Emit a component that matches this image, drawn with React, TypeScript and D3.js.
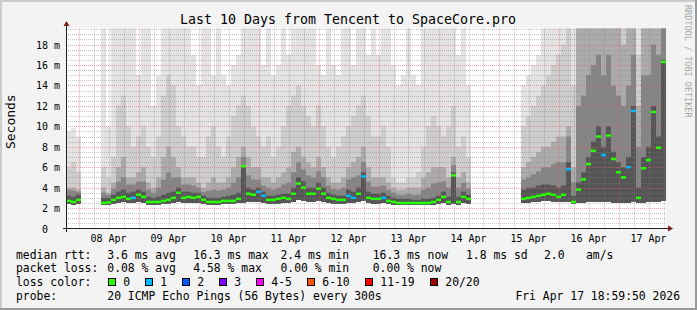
import React from "react";
import * as d3 from "d3";

// ---------------- data ----------------
const TITLE = "Last 10 Days from Tencent to SpaceCore.pro";
const startTime = new Date(2026, 3, 7, 19, 0, 0);
const endTime = new Date(2026, 3, 17, 19, 0, 0);
const STEP_HOURS = 2;
const Y_MAX = 19.57;

const dayLabels = ["08 Apr", "09 Apr", "10 Apr", "11 Apr", "12 Apr", "13 Apr", "14 Apr", "15 Apr", "16 Apr", "17 Apr"];
const yTickValues = [0, 2, 4, 6, 8, 10, 12, 14, 16, 18];
const yTickLabels = ["0", "2 m", "4 m", "6 m", "8 m", "10 m", "12 m", "14 m", "16 m", "18 m"];

const N = null;
// median rtt per 2-hour column (ms)
const median = [
  2.7, 2.6, 2.8, N, N, N, N,
  2.5, 2.55, 2.8, 3.0, 3.1, 2.9, 3.0, 3.3, 3.1, 2.6, 2.6, 2.6, 2.7,
  2.8, 3.0, 3.5, 3.0, 3.1, 3.0, 3.1, 2.8, 2.6, 2.6,
  2.6, 2.7, 2.7, 2.7, 2.9, 6.1, 3.4, 3.3, 3.6, 3.2,
  2.8, 2.8, 2.9, 3.0, 2.9, 3.4, 4.4, 4.0, 3.4, 3.4,
  3.9, 3.4, 3.0, 2.9, 2.8, 2.8, 3.2, 3.0, 3.4, 5.1,
  3.0, 2.9, 2.9, 3.0, 2.7, 2.6, 2.5, 2.5, 2.5, 2.5,
  2.5, 2.5, 2.5, 2.6, 2.8, 3.1, 2.6, 5.2, 2.6, 3.1,
  2.9, N, N, N, N, N, N, N, N, N, N,
  2.9, 3.0, 3.1, 3.2, 3.3, 3.4, 3.3, 3.1, 3.3,
  5.8, 2.6, 3.8, 4.8, 6.3, 7.6, 9.0, 7.2, 9.1, 6.8,
  5.5, 5.0, 6.0, 11.5, 3.0, 5.9, 6.7, 11.4, 7.9, 16.3,
];
// lost pings per column
const lossPings = [
  0, 0, 0, 0, 0, 0, 0,
  0, 0, 0, 0, 0, 0, 1, 0, 0, 0, 0, 0, 0,
  0, 0, 0, 0, 0, 0, 0, 0, 0, 0,
  0, 0, 0, 0, 0, 0, 0, 0, 1, 1,
  0, 0, 0, 0, 0, 0, 0, 0, 0, 0,
  0, 0, 0, 0, 0, 0, 1, 1, 0, 1,
  0, 0, 0, 1, 0, 0, 0, 0, 0, 0,
  0, 0, 0, 0, 0, 0, 0, 0, 0, 0,
  0, 0, 0, 0, 0, 0, 0, 0, 0, 0, 0,
  0, 0, 0, 0, 0, 0, 0, 0, 0,
  1, 0, 0, 0, 0, 0, 0, 1, 0, 0,
  0, 0, 1, 1, 0, 0, 0, 0, 0, 0,
];
// smoke bands (ms), from outer (lightest) to inner (darkest)
const smokeTop = [
  9.5, 9.8, 9.0, N, N, N, N,
  19.6, 10, 19.6, 19.6, 19.6, 19.6, 19.6, 15, 19.6, 19.6, 12, 15, 19.6,
  19.6, 19.6, 19.6, 19.6, 19.6, 17, 14, 19.6, 19.6, 15,
  19.6, 15, 14, 16, 17, 19.6, 19.6, 19.6, 19.6, 16,
  19.6, 15, 16, 19.6, 17, 19.6, 19.6, 19.6, 19.6, 19.6,
  16, 15, 19.6, 16, 15, 19.6, 19.6, 16, 19.6, 19.6,
  17, 19.6, 17, 19.6, 19.6, 16, 14, 15, 19.6, 15,
  14, 19.6, 19.6, 19.6, 19.6, 19.6, 19.6, 19.6, 17, 19.6,
  14, N, N, N, N, N, N, N, N, N, N,
  14, 15, 16, 17, 19.6, 19.6, 19.6, 19.6, 19.6,
  19.6, 19.6, 19.6, 19.6, 19.6, 19.6, 19.6, 19.6, 19.6, 19.6,
  19.6, 19.6, 19.6, 19.6, 19.6, 19.6, 19.6, 19.6, 19.6, 19.6,
];
const smokeUpper = [
  6.0, 6.5, 5.5, N, N, N, N,
  6, 5, 7, 12, 13, 10, 8, 9, 10, 8, 7, 9, 13,
  15, 14, 10, 9, 8, 8, 7, 7, 9, 10,
  8, 7, 9, 11, 12, 13, 12, 10, 9, 8,
  9, 7, 8, 10, 12, 13, 14, 12, 11, 10,
  12, 10, 8, 7, 8, 9, 10, 11, 12, 13,
  11, 9, 9, 10, 8, 5, 4.5, 4.5, 5, 5,
  5.5, 8, 10, 11, 10, 9, 10, 12, 8, 9,
  7, N, N, N, N, N, N, N, N, N, N,
  10, 11, 12, 13, 14, 15, 16, 17, 18,
  19.6, 14, 19.6, 19.6, 19.6, 19.6, 19.6, 19.6, 19.6, 19.6,
  19.6, 19.6, 19.6, 19.6, 17, 19.6, 19.6, 19.6, 19.6, 19.6,
];
const smokeMiddle = [
  4.0, 4.0, 3.8, N, N, N, N,
  4, 3.5, 4.5, 6, 7, 5, 5, 5.5, 6, 4.5, 4, 5, 7,
  8, 7, 6, 5, 5, 5, 4.5, 4, 4.5, 5,
  4.5, 4.5, 5, 6, 7, 8, 7, 6, 6, 5,
  5, 4.5, 5, 5.5, 6, 7.5, 8, 7, 6.5, 6,
  7, 6, 5, 4.5, 4.5, 5, 6, 6.5, 7, 8,
  6, 5, 5, 5, 4.5, 4, 3.8, 3.8, 4, 4,
  4, 5, 5.5, 6, 6, 6, 5, 7, 5, 5.5,
  4.5, N, N, N, N, N, N, N, N, N, N,
  6, 6.5, 7, 7.5, 8, 8, 8.5, 9, 9,
  10, 6, 19.6, 19.6, 19.6, 19.6, 19.6, 19.6, 19.6, 19.6,
  19.6, 18, 19.6, 19.6, 12, 19.6, 19.6, 19.6, 19.6, 19.6,
];
const smokeDeep = [
  3.8, 3.7, 3.6, N, N, N, N,
  3.5, 3.3, 3.9, 4.6, 5.0, 4.3, 4.3, 4.6, 4.6, 3.8, 3.5, 4.0, 4.8,
  5.5, 5.0, 5.0, 4.3, 4.3, 4.2, 4.0, 3.6, 3.7, 3.8,
  3.7, 3.8, 4.0, 4.5, 5.0, 7.0, 5.2, 4.8, 4.8, 4.2,
  4.0, 3.8, 4.0, 4.3, 4.5, 5.5, 6.5, 5.8, 5.2, 5.0,
  5.6, 5.0, 4.2, 3.9, 3.8, 4.0, 4.8, 5.0, 5.2, 6.5,
  4.6, 4.1, 4.1, 4.2, 3.8, 3.5, 3.3, 3.3, 3.4, 3.3,
  3.3, 3.8, 4.0, 4.4, 4.5, 4.6, 4.0, 6.2, 4.0, 4.5,
  3.9, N, N, N, N, N, N, N, N, N, N,
  4.8, 5.0, 5.3, 5.6, 6.0, 6.0, 6.3, 6.5, 6.5,
  9, 4.5, 12, 13, 15, 16, 17, 15, 17, 14,
  13, 12, 14, 17, 8, 15, 15, 18, 17, 19.6,
];
const smokeLower = [
  3.2, 3.1, 3.3, N, N, N, N,
  3.0, 3.0, 3.3, 3.6, 3.8, 3.5, 3.6, 3.8, 3.6, 3.1, 3.0, 3.1, 3.3,
  3.5, 3.6, 4.0, 3.6, 3.6, 3.5, 3.5, 3.2, 3.0, 3.0,
  3.0, 3.1, 3.2, 3.3, 3.5, 6.2, 4.0, 3.8, 4.0, 3.6,
  3.2, 3.2, 3.3, 3.4, 3.4, 4.0, 5.0, 4.6, 4.0, 4.0,
  4.5, 4.0, 3.5, 3.3, 3.2, 3.2, 3.8, 3.6, 4.0, 5.5,
  3.6, 3.4, 3.4, 3.5, 3.2, 3.0, 2.9, 2.9, 2.9, 2.8,
  2.8, 2.9, 2.9, 3.0, 3.2, 3.6, 3.1, 5.5, 3.1, 3.6,
  3.3, N, N, N, N, N, N, N, N, N, N,
  3.8, 4.0, 4.0, 4.2, 4.3, 4.3, 4.2, 4.0, 4.2,
  6.5, 3.2, 4.5, 5.5, 7.0, 8.5, 10, 8, 10, 7.5,
  6.5, 6, 7, 12, 4, 7, 8, 12, 9, 16.5,
];
const smokeMin = [
  2.4, 2.3, 2.4, N, N, N, N,
  2.3, 2.3, 2.4, 2.5, 2.6, 2.5, 2.5, 2.6, 2.5, 2.3, 2.3, 2.3, 2.4,
  2.4, 2.5, 2.6, 2.5, 2.5, 2.5, 2.5, 2.4, 2.3, 2.3,
  2.3, 2.4, 2.4, 2.4, 2.5, 2.5, 2.6, 2.6, 2.6, 2.5,
  2.4, 2.4, 2.4, 2.5, 2.5, 2.6, 2.8, 2.7, 2.6, 2.6,
  2.7, 2.6, 2.5, 2.4, 2.4, 2.4, 2.5, 2.5, 2.6, 2.7,
  2.5, 2.4, 2.4, 2.5, 2.4, 2.3, 2.3, 2.3, 2.3, 2.3,
  2.3, 2.3, 2.3, 2.3, 2.4, 2.5, 2.3, 2.4, 2.3, 2.5,
  2.4, N, N, N, N, N, N, N, N, N, N,
  2.5, 2.5, 2.6, 2.6, 2.7, 2.7, 2.6, 2.6, 2.6,
  2.6, 2.4, 2.5, 2.5, 2.6, 2.6, 2.6, 2.6, 2.6, 2.5,
  2.5, 2.5, 2.5, 2.6, 2.5, 2.5, 2.6, 2.6, 2.6, 2.7,
];

const legendRtt = ["median rtt:", "3.6 ms avg", "16.3 ms max", "2.4 ms min", "16.3 ms now", "1.8 ms sd", "2.0", "am/s"];
const legendLoss = ["packet loss:", "0.08 % avg", "4.58 % max", "0.00 % min", "0.00 % now"];
const lossColorLabels = ["0", "1", "2", "3", "4-5", "6-10", "11-19", "20/20"];
const probeText = ["probe:", "20 ICMP Echo Pings (56 Bytes) every 300s"];
const dateText = "Fri Apr 17 18:59:50 2026";

// ---------------- styles / layout ----------------
const W = 697;
const H = 310;
const PLOT = { left: 66, right: 666, top: 28.5, bottom: 228.5 };
const FONT = "'DejaVu Sans Mono', monospace";
const LOSS_COLORS = ["#26ff00", "#00b8ff", "#0059ff", "#7e00ff", "#ff00ff", "#ff5500", "#ff0000", "#a10000"];
const SMOKE_COLORS = ["#e3e3e3", "#cdcdcd", "#ababab", "#858585", "#555555"];
const ROW_X = [16, 107.3, 193.3, 280.5, 372.7, 466, 544, 586];
const BOX_X = [108.5, 145.5, 182.5, 219.5, 256.5, 307.5, 365.5, 430.5];
const ROW_Y = [258.5, 272, 286, 300];

export default function App() {
  const x = d3.scaleTime().domain([startTime, endTime]).range([PLOT.left, PLOT.right]);
  const y = d3.scaleLinear().domain([0, Y_MAX]).range([PLOT.bottom, PLOT.top]);
  const cy = (v: number) => y(Math.min(v, Y_MAX));
  const colStart = (i: number) => x(d3.timeHour.offset(startTime, i * STEP_HOURS));
  const snap = (v: number) => Math.round(v) + 0.5;

  const levels = [smokeTop, smokeUpper, smokeMiddle, smokeDeep, smokeLower];

  const minorX = d3.timeHour.every(6)!.range(startTime, endTime).filter((d) => d.getHours() !== 0);
  const majorX = d3.timeDay.range(startTime, endTime);
  const labelDays = majorX.map((d) => d3.timeHour.offset(d, 12));

  const minorY = d3.range(1, 40).map((k) => k * 0.5).filter((v) => v % 2 !== 0 && v <= Y_MAX);
  const majorY = yTickValues.filter((v) => v > 0);

  return (
    <svg width={W} height={H} style={{ display: "block", position: "absolute", left: 0, top: 0 }} fontFamily={FONT}>
      <rect x={0} y={0} width={W} height={H} fill="#f3f3f3" />
      <rect x={0} y={0} width={W} height={2} fill="#cbcbcb" />
      <rect x={0} y={0} width={2} height={H} fill="#cbcbcb" />
      <rect x={0} y={H - 2} width={W} height={2} fill="#999999" />
      <rect x={W - 2} y={0} width={2} height={H} fill="#999999" />
      <rect x={PLOT.left} y={PLOT.top - 0.5} width={PLOT.right - PLOT.left} height={PLOT.bottom - PLOT.top + 0.5} fill="#ffffff" />

      <text x={348} y={24} fontSize={13.3} textAnchor="middle" fill="#000">{TITLE}</text>

      {/* smoke */}
      {levels.map((arr, li) => (
        <g key={li} fill={SMOKE_COLORS[li]}>
          {arr.map((v, i) => {
            if (v == null || smokeMin[i] == null) return null;
            const x0 = colStart(i);
            const x1 = colStart(i + 1);
            const yt = cy(v as number);
            const yb = cy(smokeMin[i] as number);
            return <rect key={i} x={x0} y={yt} width={x1 - x0} height={Math.max(0, yb - yt)} />;
          })}
        </g>
      ))}

      {/* grid */}
      <g stroke="rgba(130,130,130,0.45)" strokeWidth={1} strokeDasharray="1,1">
        {minorX.map((d, i) => (
          <line key={"mx" + i} x1={snap(x(d))} x2={snap(x(d))} y1={PLOT.top} y2={PLOT.bottom} />
        ))}
        {minorY.map((v, i) => (
          <line key={"my" + i} x1={PLOT.left} x2={PLOT.right} y1={snap(y(v))} y2={snap(y(v))} />
        ))}
      </g>
      <g stroke="rgba(240,90,90,0.55)" strokeWidth={1} strokeDasharray="1,1">
        {majorX.map((d, i) => (
          <line key={"Mx" + i} x1={snap(x(d))} x2={snap(x(d))} y1={PLOT.top} y2={PLOT.bottom} />
        ))}
        {majorY.map((v, i) => (
          <line key={"My" + i} x1={PLOT.left} x2={PLOT.right} y1={snap(y(v))} y2={snap(y(v))} />
        ))}
      </g>

      {/* median */}
      {median.map((v, i) => {
        if (v == null) return null;
        const x0 = colStart(i);
        const x1 = colStart(i + 1);
        return (
          <rect key={"m" + i} x={x0} y={y(v) - 1.25} width={x1 - x0} height={2.5}
            fill={LOSS_COLORS[Math.min(lossPings[i], LOSS_COLORS.length - 1)]} />
        );
      })}

      {/* axes */}
      <line x1={63} x2={668} y1={228.5} y2={228.5} stroke="#202020" />
      <polygon points="668,225.5 673,228.5 668,231.5" fill="#7f1f1f" />
      <line x1={66.5} x2={66.5} y1={232} y2={26} stroke="#202020" />
      <polygon points="63.5,26 66.5,21 69.5,26" fill="#7f1f1f" />

      {/* y labels */}
      {yTickValues.map((v, i) => (
        <text key={"yl" + i} x={v === 0 ? 48 : 60} y={snap(y(v)) + 3.5} fontSize={10} textAnchor="end" fill="#000">
          {yTickLabels[i]}
        </text>
      ))}
      {/* x labels */}
      {labelDays.map((d, i) => (
        <text key={"xl" + i} x={x(d)} y={242} fontSize={10} textAnchor="middle" fill="#000">
          {dayLabels[i]}
        </text>
      ))}

      <text transform="translate(15,121.7) rotate(-90)" fontSize={13} textAnchor="middle" fill="#000">Seconds</text>
      <text transform="translate(685,5) rotate(90)" fontSize={8.5} fill="#a8a8a8">RRDTOOL / TOBI OETIKER</text>

      {/* legend */}
      <g fontSize={11.4} fill="#000">
        {legendRtt.map((s, i) => (
          <text key={"r" + i} x={ROW_X[i]} y={ROW_Y[0]}>{s}</text>
        ))}
        {legendLoss.map((s, i) => (
          <text key={"l" + i} x={ROW_X[i]} y={ROW_Y[1]}>{s}</text>
        ))}
        <text x={ROW_X[0]} y={ROW_Y[2]}>loss color:</text>
        {lossColorLabels.map((s, i) => (
          <g key={"lc" + i}>
            <rect x={BOX_X[i]} y={278.5} width={7} height={7} fill={LOSS_COLORS[i]} stroke="#000" strokeWidth={1} />
            <text x={BOX_X[i] + 14.8} y={ROW_Y[2]}>{s}</text>
          </g>
        ))}
        <text x={ROW_X[0]} y={ROW_Y[3]}>{probeText[0]}</text>
        <text x={ROW_X[1]} y={ROW_Y[3]}>{probeText[1]}</text>
        <text x={680} y={ROW_Y[3]} textAnchor="end">{dateText}</text>
      </g>
    </svg>
  );
}
